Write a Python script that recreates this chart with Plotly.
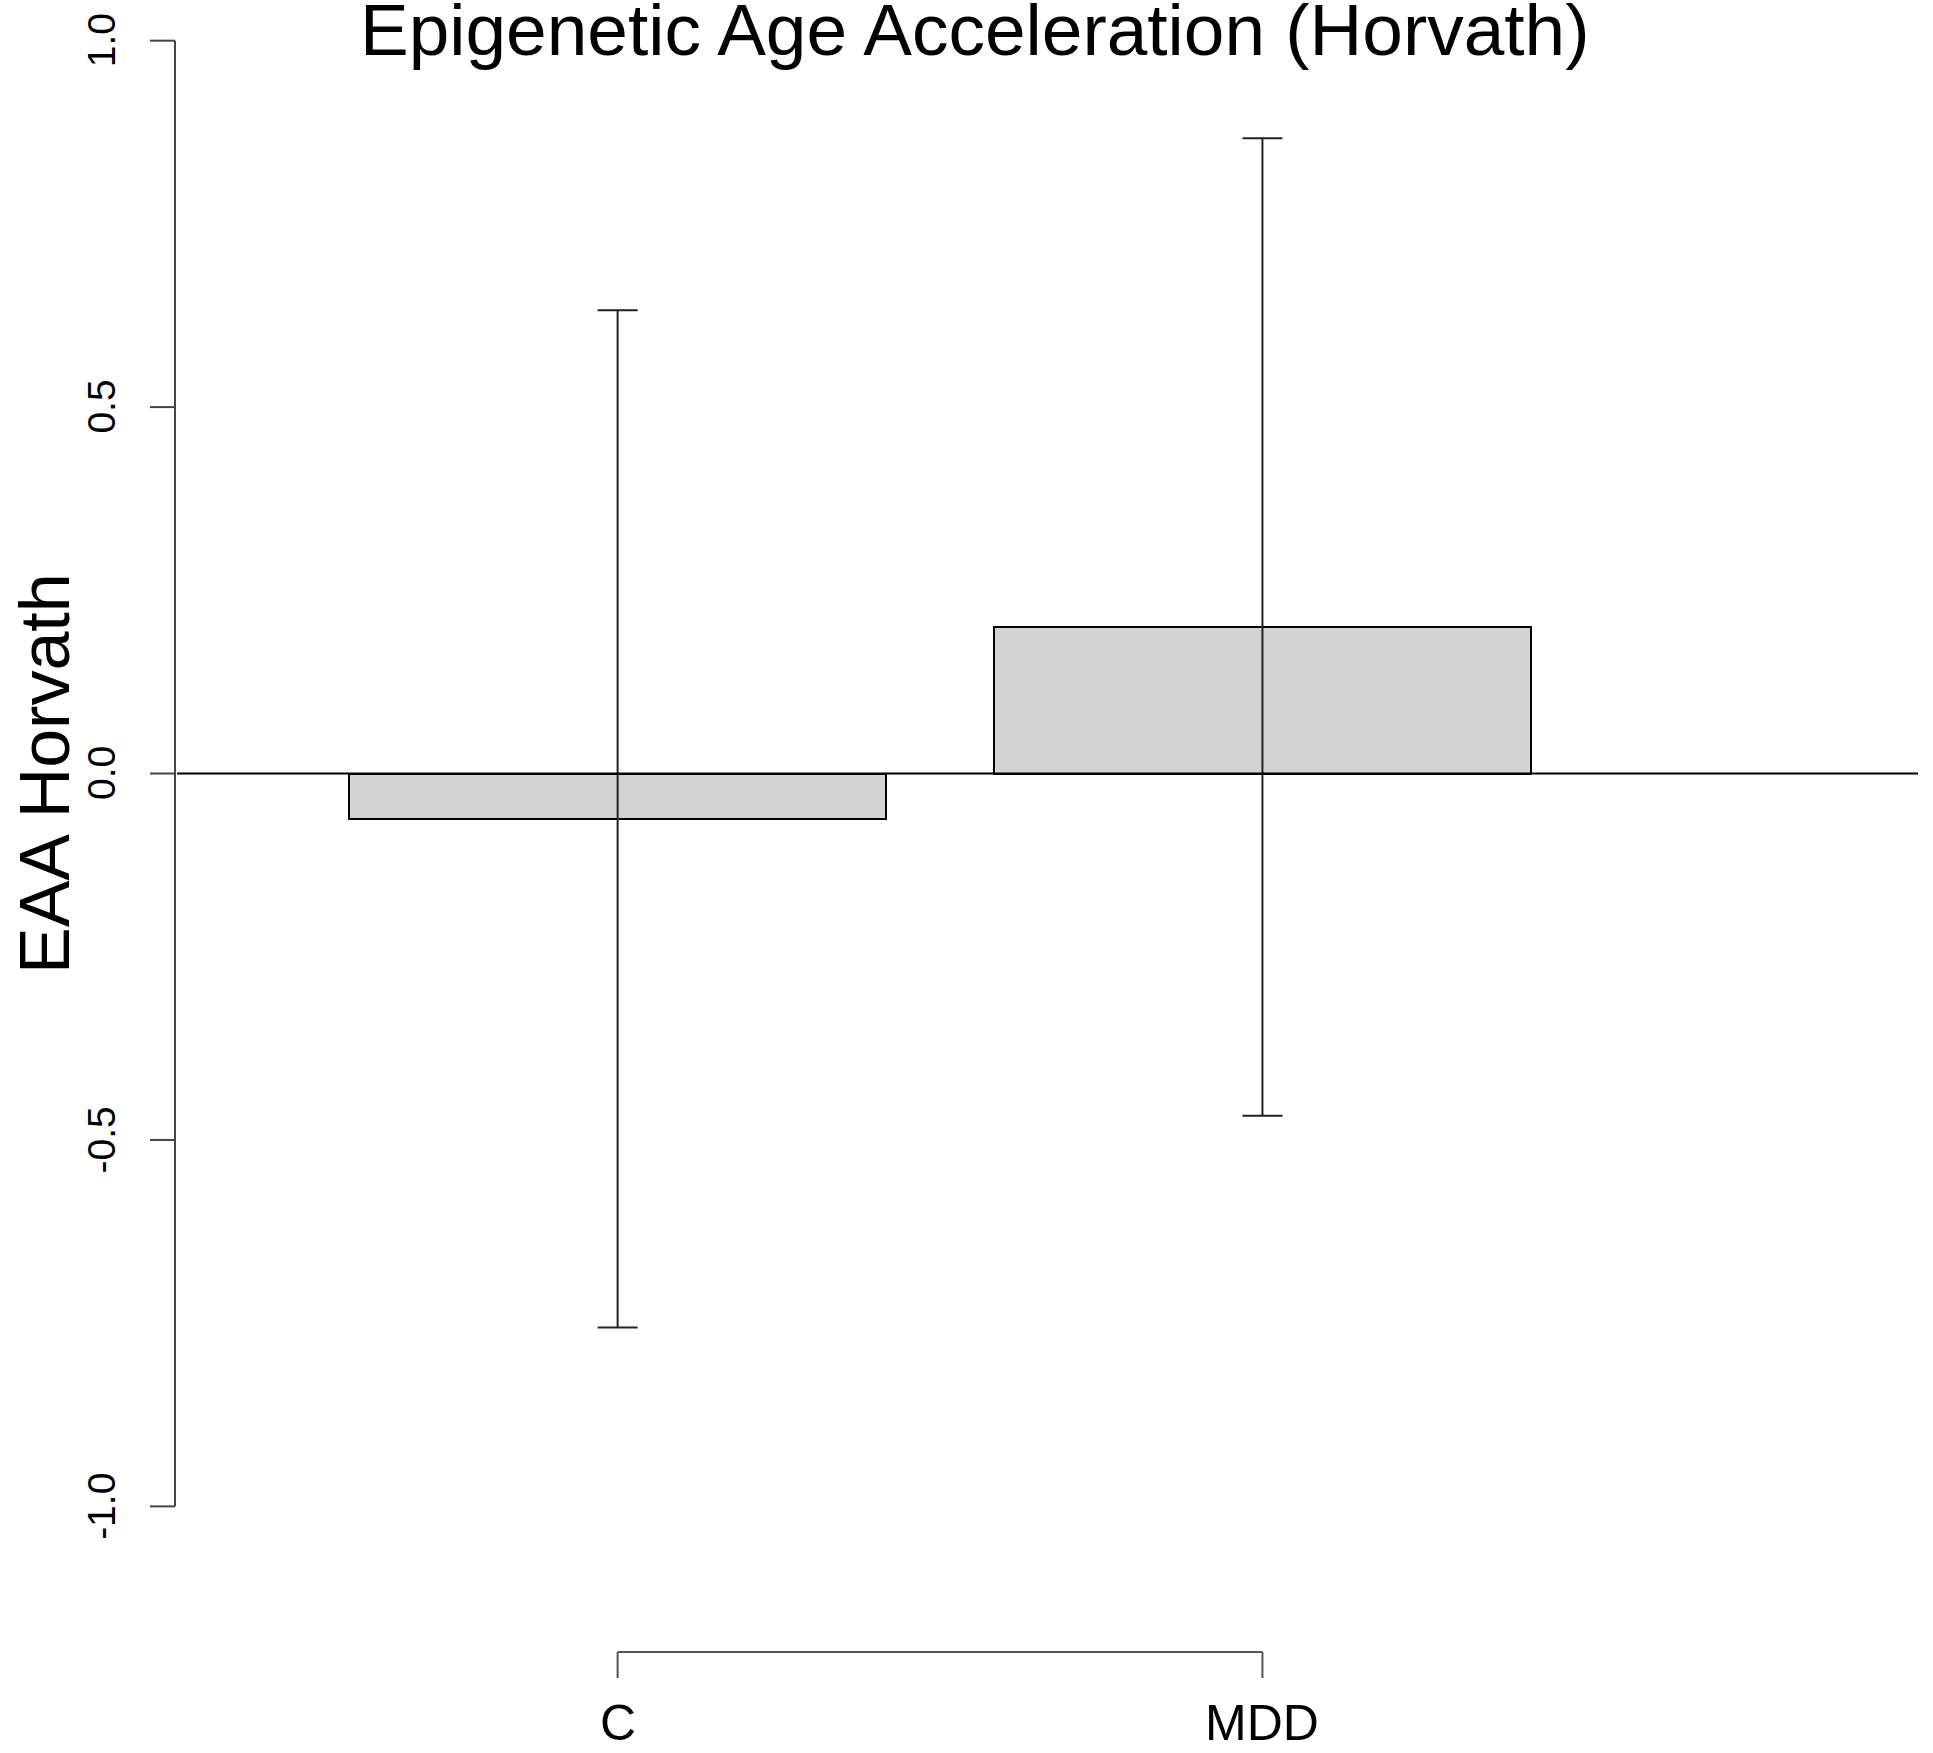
import plotly.graph_objects as go

# ---- data ----
categories = ["C", "MDD"]
means = [-0.062, 0.200]
errors = [0.694, 0.667]
y_tick_vals = [-1.0, -0.5, 0.0, 0.5, 1.0]
y_tick_text = ["-1.0", "-0.5", "0.0", "0.5", "1.0"]
title_text = "Epigenetic Age Acceleration (Horvath)"
y_title = "EAA Horvath"

# R barplot layout: width 1, space 0.2
bar_width = 1.0
space = 0.2
positions = [space + bar_width / 2 + i * (bar_width + space) for i in range(len(categories))]

W, H = 1933, 1753
L, R, T, B = 177, 1918, 0, 1565
plot_w, plot_h = R - L, B - T
x_range = [-0.12, 3.12]
y_range = [-1.08, 1.0555]

FONT = "Liberation Sans, Arial, Helvetica, sans-serif"


def px_x(p):
    return (p - L) / plot_w


def px_y(p):
    return (B - p) / plot_h


fig = go.Figure()
fig.add_trace(go.Bar(
    x=positions, y=means, width=bar_width,
    marker=dict(color="#D3D3D3", line=dict(color="black", width=2)),
    error_y=dict(type="data", array=errors, visible=True,
                 color="#222222", thickness=2, width=20),
    showlegend=False, hoverinfo="skip",
))

shapes = []
# zero line across plot region
shapes.append(dict(type="line", xref="paper", yref="y", x0=0, x1=1, y0=0, y1=0,
                   line=dict(color="black", width=2)))
# y axis line from first to last tick
shapes.append(dict(type="line", xref="paper", yref="y", x0=px_x(175), x1=px_x(175),
                   y0=min(y_tick_vals), y1=max(y_tick_vals),
                   line=dict(color="#444444", width=2)))
for v in y_tick_vals:
    shapes.append(dict(type="line", xref="paper", yref="y", x0=px_x(150), x1=px_x(175),
                       y0=v, y1=v, line=dict(color="#444444", width=2)))
# x axis (R style: spans first to last tick, offset below)
shapes.append(dict(type="line", xref="x", yref="paper", x0=positions[0], x1=positions[-1],
                   y0=px_y(1652), y1=px_y(1652), line=dict(color="#555555", width=2)))
for p in positions:
    shapes.append(dict(type="line", xref="x", yref="paper", x0=p, x1=p,
                       y0=px_y(1652), y1=px_y(1678), line=dict(color="#555555", width=2)))

annotations = []
for v, t in zip(y_tick_vals, y_tick_text):
    annotations.append(dict(text=t, xref="paper", yref="y", x=px_x(101.5), y=v,
                            textangle=-90, showarrow=False, xanchor="center", yanchor="middle",
                            font=dict(family=FONT, size=39, color="black")))
for p, c in zip(positions, categories):
    annotations.append(dict(text=c, xref="x", yref="paper", x=p, y=px_y(1752),
                            showarrow=False, xanchor="center", yanchor="bottom", borderpad=0,
                            font=dict(family=FONT, size=50, color="black")))
annotations.append(dict(text=y_title, xref="paper", yref="y", x=px_x(44.5), y=0,
                        textangle=-90, showarrow=False, xanchor="center", yanchor="middle",
                        font=dict(family=FONT, size=70, color="black")))
annotations.append(dict(text=title_text, xref="paper", yref="paper", x=px_x(974.5), y=px_y(71),
                        showarrow=False, xanchor="center", yanchor="bottom", borderpad=0,
                        font=dict(family=FONT, size=73, color="black")))

fig.update_layout(
    width=W, height=H,
    margin=dict(l=L, r=W - R, t=T, b=H - B, pad=0),
    paper_bgcolor="white", plot_bgcolor="white",
    xaxis=dict(range=x_range, showgrid=False, zeroline=False, showline=False,
               showticklabels=False, ticks="", fixedrange=True),
    yaxis=dict(range=y_range, showgrid=False, zeroline=False, showline=False,
               showticklabels=False, ticks="", fixedrange=True),
    shapes=shapes, annotations=annotations,
    bargap=0,
)

fig.write_html("out.html", config={"displayModeBar": False},
               post_script="document.body.style.margin='0';document.body.style.overflow='hidden';")
